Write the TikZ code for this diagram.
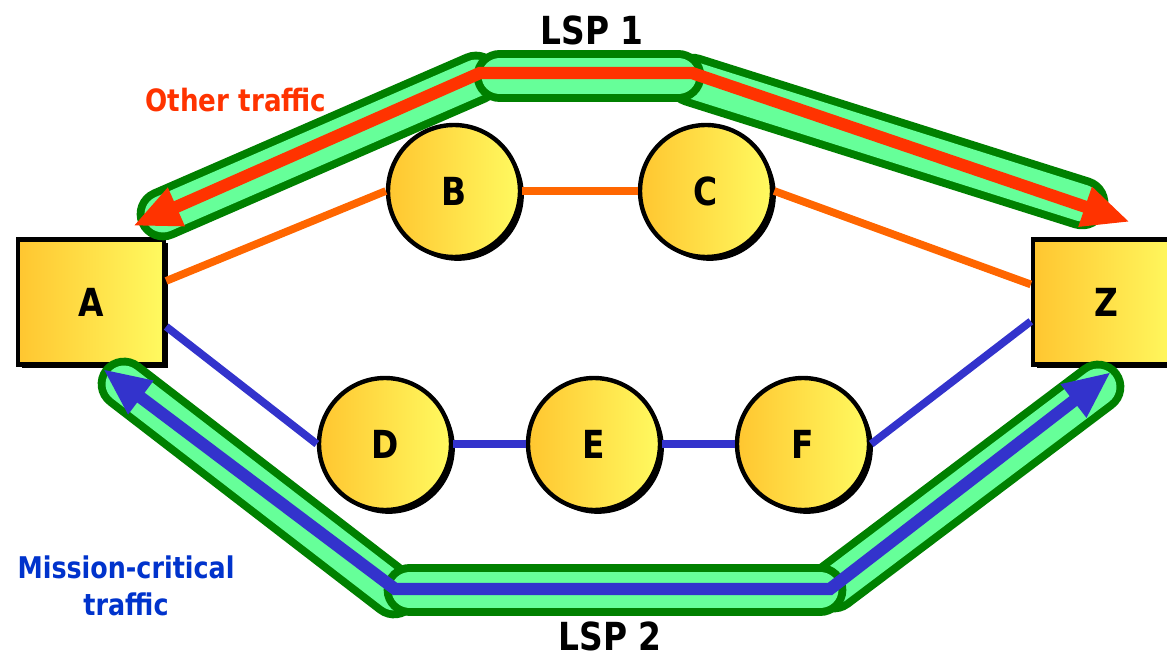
\documentclass[tikz,border=0pt]{standalone}
\usepackage{fontspec}
\setmainfont{DejaVu Sans}[FakeStretch=0.85]
\usetikzlibrary{arrows.meta, shadows}

\definecolor{goldleft}{RGB}{255,198,48}
\definecolor{goldright}{RGB}{255,250,96}
\definecolor{tubedark}{RGB}{0,128,0}
\definecolor{tubelight}{RGB}{102,255,153}
\definecolor{otherred}{RGB}{255,51,0}
\definecolor{linkorange}{RGB}{255,102,0}
\definecolor{critblue}{RGB}{51,51,204}
\definecolor{textblue}{RGB}{0,51,204}

\begin{document}
\begin{tikzpicture}[
            x = 0.02cm, y = -0.02cm, % one unit per pixel, y pointing down
            > = {Triangle[length=27pt, width=22pt]}, % arrow head style
            semithick % line style
        ]

        \tikzstyle{every node}=[
            font = \bfseries\fontsize{22}{26}\selectfont
        ]
        \tikzstyle{edgebox}=[
            rectangle,
            draw = black,
            line width = 2.5pt,
            minimum width = 2.92cm,
            minimum height = 2.5cm,
            left color = goldleft,
            right color = goldright,
            general shadow = {fill=black, shadow xshift=2.2pt, shadow yshift=-2.2pt}
        ]
        \tikzstyle{router}=[
            circle,
            draw = black,
            line width = 2.5pt,
            minimum size = 2.64cm,
            inner sep = 0pt,
            left color = goldleft,
            right color = goldright,
            general shadow = {fill=black, shadow xshift=2.2pt, shadow yshift=-2.2pt}
        ]
        \tikzstyle{orangelink}=[draw = linkorange, line width = 4.4pt]
        \tikzstyle{bluelink}=[draw = critblue, line width = 4.4pt]
        \tikzstyle{tube}=[
            draw = tubedark,
            line width = 4.5pt,
            double = tubelight,
            double distance = 21pt,
            line cap = round
        ]
        \tikzstyle{redflow}=[draw = otherred, line width = 7pt, <->]
        \tikzstyle{blueflow}=[draw = critblue, line width = 7pt, <->]

        \useasboundingbox (0,0) rectangle (1167,658);

	\node[edgebox] (A) at (91,302) {A};
	\node[edgebox] (Z) at (1106,302) {Z};
	\node[router] (B) at (454,191) {B};
	\node[router] (C) at (706,191) {C};
	\node[router] (D) at (385,444) {D};
	\node[router] (E) at (594,444) {E};
	\node[router] (F) at (803,444) {F};

        % links between routers
        \path[orangelink] ([yshift=12pt]A.east) edge (B.west)
            (B) edge (C)
            (C.east) edge ([yshift=10pt]Z.west);
        \path[bluelink] ([yshift=-14pt]A.east) edge (D.west)
            (D) edge (E)
            (E) edge (F)
            (F.east) edge ([yshift=-11pt]Z.west);

        % LSP 1
	\coordinate (u1) at (163,214);
	\coordinate (u2) at (476,78);
	\coordinate (u3) at (500,76);
	\coordinate (u4) at (678,76);
	\coordinate (u5) at (692,80);
	\coordinate (u6) at (1082,203);
        \foreach \p/\q in {u1/u2, u5/u6, u3/u4}
            \draw[tube] (\p) -- (\q);

        % LSP 2
	\coordinate (v1) at (124,384);
	\coordinate (v2) at (394,592);
	\coordinate (v3) at (410,590);
	\coordinate (v4) at (820,590);
	\coordinate (v5) at (834,586);
	\coordinate (v6) at (1098,387);
        \foreach \p/\q in {v1/v2, v5/v6, v3/v4}
            \draw[tube] (\p) -- (\q);

        % traffic
	\coordinate (ra) at (133,226);
	\coordinate (rb) at (480,73);
	\coordinate (rc) at (692,73);
	\coordinate (rz) at (1130,222);
        \draw[redflow] (ra) -- (rb) -- (rc) -- (rz);

	\coordinate (ba) at (103,369);
	\coordinate (bb) at (395,589);
	\coordinate (bc) at (830,589);
	\coordinate (bz) at (1111,372);
        \draw[blueflow] (ba) -- (bb) -- (bc) -- (bz);

	\node (lsp1) at (592,30) {LSP 1};
	\node (lsp2) at (610,636) {LSP 2};
	\node[text = otherred, font = \bfseries\fontsize{17.5}{21}\selectfont] (other) at (236,100) {Other traffic};
	\node[text = textblue, align = center, font = \bfseries\fontsize{17}{21}\selectfont] (critical) at (126,586) {Mission-critical\\traffic};

    \end{tikzpicture}
\end{document}
